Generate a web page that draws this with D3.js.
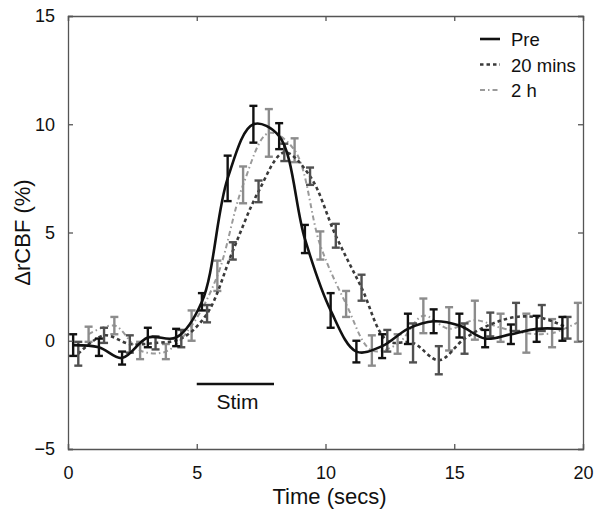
<!DOCTYPE html>
<html>
<head>
<meta charset="utf-8">
<script src="https://cdn.jsdelivr.net/npm/d3@7.9.0/dist/d3.min.js"></script>
<style>
  body { margin: 0; background: #fff; }
  svg text { font-family: "Liberation Sans", Arial, sans-serif; fill: #111; }
</style>
</head>
<body>
<svg id="chart" width="600" height="515"></svg>
<script>
// time points (secs) for each series
const preT  = [0.2, 1.2, 2.1, 3.1, 4.2, 5.2, 6.2, 7.2, 8.2, 9.2, 10.2, 11.2, 12.2, 13.2, 14.2, 15.2, 16.2, 17.2, 18.2, 19.2];
const preV  = [-0.2, -0.3, -0.8, 0.15, 0.15, 1.8, 7.5, 10.0, 9.45, 4.7, 1.4, -0.5, -0.25, 0.55, 0.9, 0.7, 0.1, 0.3, 0.55, 0.55];
const preE  = [0.5, 0.4, 0.3, 0.45, 0.4, 0.4, 1.05, 0.85, 0.6, 0.65, 0.8, 0.5, 0.55, 0.7, 0.55, 0.55, 0.4, 0.45, 0.6, 0.55];

const m20T = [0.4, 1.4, 2.4, 3.4, 4.4, 5.4, 6.4, 7.4, 8.4, 9.4, 10.4, 11.4, 12.4, 13.4, 14.4, 15.4, 16.4, 17.4, 18.4, 19.4];
const m20V = [-0.6, 0.25, -0.15, -0.1, 0.1, 1.25, 4.15, 6.9, 8.7, 7.6, 4.85, 2.45, 0.0, -0.1, -0.9, 0.1, 0.75, 1.1, 1.05, 0.6];
const m20E = [0.55, 0.35, 0.4, 0.3, 0.4, 0.4, 0.4, 0.5, 0.4, 0.4, 0.55, 0.6, 0.5, 0.9, 0.65, 0.7, 0.55, 0.65, 0.6, 0.5];

const h2T  = [0.8, 1.8, 2.8, 3.8, 4.8, 5.8, 6.8, 7.8, 8.8, 9.8, 10.8, 11.8, 12.8, 13.8, 14.8, 15.8, 16.8, 17.8, 18.8, 19.8];
const h2V  = [0.3, 0.7, -0.45, -0.5, 0.7, 3.0, 7.2, 9.6, 8.8, 4.4, 1.7, -0.45, -0.15, 1.15, 0.55, 0.95, 0.6, 0.35, 0.35, 0.85];
const h2E  = [0.35, 0.4, 0.4, 0.35, 0.7, 0.7, 0.85, 1.1, 0.55, 0.65, 0.6, 0.7, 0.45, 0.8, 1.0, 0.9, 0.65, 0.9, 0.65, 0.9];

const legendLabels = ['Pre', '20 mins', '2 h'];
const xTicks = [0, 5, 10, 15, 20];
const yTicks = [-5, 0, 5, 10, 15];
const stimRange = [5, 8];
const stimLevel = -2;

const svg = d3.select('#chart');
const margin = { top: 16, right: 17, bottom: 66, left: 68 };
const W = 600, H = 515;
const innerW = W - margin.left - margin.right;
const innerH = H - margin.top - margin.bottom;

const x = d3.scaleLinear().domain([0, 20]).range([0, innerW]);
const y = d3.scaleLinear().domain([-5, 15]).range([innerH, 0]);

const g = svg.append('g').attr('transform', `translate(${margin.left},${margin.top})`);

// series definitions
const series = [
  { t: h2T,  v: h2V,  e: h2E,  line: '#9a9a9a', bar: '#8c8c8c', width: 2,   dash: '5,3,1.5,3' },
  { t: m20T, v: m20V, e: m20E, line: '#3a3a3a', bar: '#505050', width: 2.6, dash: '3.5,3' },
  { t: preT, v: preV, e: preE, line: '#111',    bar: '#111',    width: 2.6, dash: null }
];

const line = d3.line()
  .x(d => x(d.t))
  .y(d => y(d.v))
  .curve(d3.curveCatmullRom.alpha(0.5));

series.forEach(s => {
  const pts = s.t.map((t, i) => ({ t, v: s.v[i], e: s.e[i] }));

  g.append('path')
    .datum(pts)
    .attr('fill', 'none')
    .attr('stroke', s.line)
    .attr('stroke-width', s.width)
    .attr('stroke-dasharray', s.dash)
    .attr('d', line);

  const bars = g.append('g').selectAll('g').data(pts).join('g')
    .attr('stroke', s.bar)
    .attr('stroke-width', 2.4);
  bars.append('line')
    .attr('x1', d => x(d.t)).attr('x2', d => x(d.t))
    .attr('y1', d => y(d.v - d.e)).attr('y2', d => y(d.v + d.e));
  bars.append('line')
    .attr('x1', d => x(d.t) - 4).attr('x2', d => x(d.t) + 4)
    .attr('y1', d => y(d.v - d.e)).attr('y2', d => y(d.v - d.e));
  bars.append('line')
    .attr('x1', d => x(d.t) - 4).attr('x2', d => x(d.t) + 4)
    .attr('y1', d => y(d.v + d.e)).attr('y2', d => y(d.v + d.e));
});

// stimulus bar
g.append('line')
  .attr('x1', x(stimRange[0])).attr('x2', x(stimRange[1]))
  .attr('y1', y(stimLevel)).attr('y2', y(stimLevel))
  .attr('stroke', '#111').attr('stroke-width', 2.6);
g.append('text')
  .attr('x', x((stimRange[0] + stimRange[1]) / 2) + 2)
  .attr('y', y(stimLevel) + 25)
  .attr('text-anchor', 'middle')
  .style('font-size', '21px')
  .text('Stim');

// axes (box with inward ticks)
const fmt = d => d < 0 ? '\u2212' + Math.abs(d) : d;
const axisColor = '#555';

const xb = g.append('g').attr('transform', `translate(0,${innerH})`)
  .call(d3.axisBottom(x).tickValues(xTicks).tickSize(-5).tickPadding(17).tickFormat(fmt));
const xt = g.append('g')
  .call(d3.axisTop(x).tickValues(xTicks).tickSize(-5).tickFormat(''));
const yl = g.append('g')
  .call(d3.axisLeft(y).tickValues(yTicks).tickSize(-5).tickPadding(13).tickFormat(fmt));
const yr = g.append('g').attr('transform', `translate(${innerW},0)`)
  .call(d3.axisRight(y).tickValues(yTicks).tickSize(-5).tickFormat(''));

[xb, xt, yl, yr].forEach(a => {
  a.select('.domain').attr('stroke', axisColor).attr('stroke-width', 1.3);
  a.selectAll('.tick line').attr('stroke', axisColor).attr('stroke-width', 1.3);
  a.selectAll('text').style('font-size', '18px').attr('fill', '#111')
    .style('font-family', '"Liberation Sans", Arial, sans-serif');
});

// axis titles
svg.append('text')
  .attr('x', margin.left + innerW / 2 + 4)
  .attr('y', 504)
  .attr('text-anchor', 'middle')
  .style('font-size', '22px')
  .text('Time (secs)');

svg.append('text')
  .attr('transform', `translate(30,${margin.top + innerH / 2}) rotate(-90)`)
  .attr('text-anchor', 'middle')
  .style('font-size', '22px')
  .text('\u0394rCBF (%)');

// legend
const legendStyles = [series[2], series[1], series[0]];
const legend = svg.append('g');
legendLabels.forEach((lab, i) => {
  const s = legendStyles[i];
  const ly = 39 + i * 25.5;
  legend.append('line')
    .attr('x1', 480).attr('x2', 500)
    .attr('y1', ly).attr('y2', ly)
    .attr('stroke', s.line)
    .attr('stroke-width', s.width)
    .attr('stroke-dasharray', s.dash);
  legend.append('text')
    .attr('x', 511).attr('y', ly + 7)
    .style('font-size', '18.5px')
    .text(lab);
});
</script>
</body>
</html>
